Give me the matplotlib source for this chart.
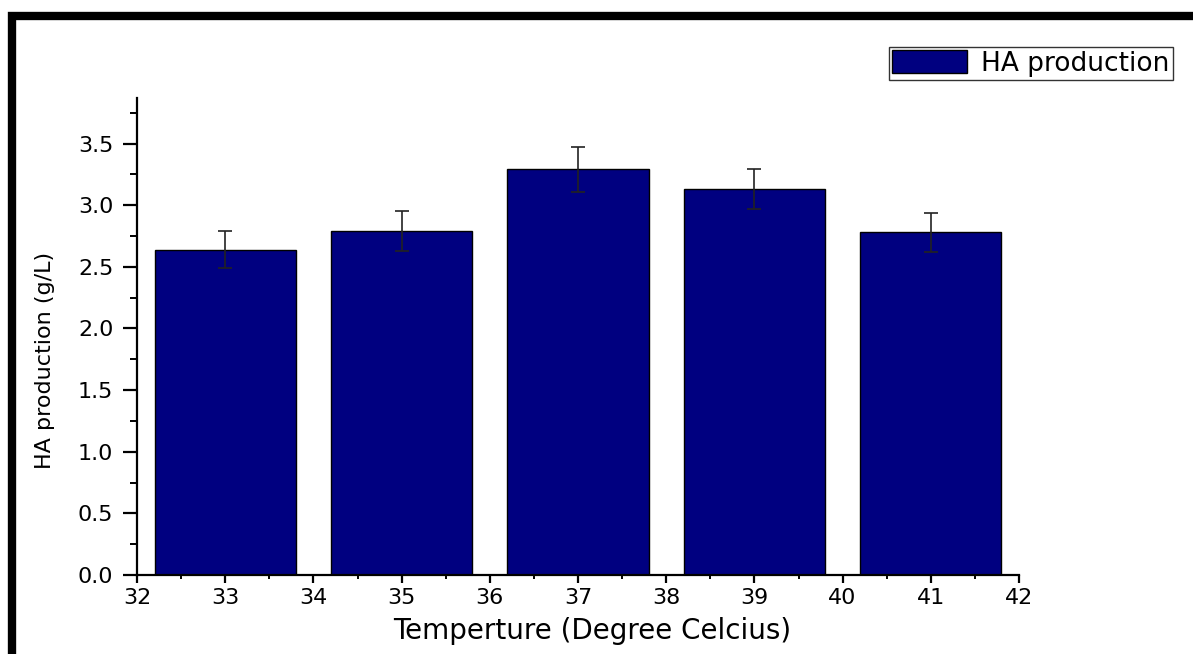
import numpy as np
import matplotlib
matplotlib.use('Agg')
import matplotlib.pyplot as plt
from matplotlib.lines import Line2D
from matplotlib.ticker import MultipleLocator

# data
temps = [33, 35, 37, 39, 41]
ha_prod = [2.64, 2.79, 3.29, 3.13, 2.78]
ha_err = [0.15, 0.16, 0.18, 0.16, 0.16]

plt.rcParams['font.family'] = 'DejaVu Sans'

W, H = 1193, 654
fig = plt.figure(figsize=(W / 100, H / 100), dpi=100)
ax = fig.add_axes([137 / W, 1 - 575 / H, (1019 - 137) / W, (575 - 98) / H])

# bars with error bars
ax.bar(temps, ha_prod, width=1.6, color='#000080', edgecolor='black',
       linewidth=1.0, label='HA production', zorder=2)
ax.errorbar(temps, ha_prod, yerr=ha_err, fmt='none', ecolor='#222222',
            elinewidth=1.2, capsize=5, capthick=1.2, zorder=3)

# axis properties
ax.set_xlim(32, 42)
ax.set_ylim(0, 3.87)
ax.xaxis.set_major_locator(MultipleLocator(1))
ax.xaxis.set_minor_locator(MultipleLocator(0.5))
ax.yaxis.set_minor_locator(MultipleLocator(0.25))
ax.set_yticks(np.arange(0, 3.51, 0.5))
ax.set_yticklabels(['%.1f' % v for v in np.arange(0, 3.51, 0.5)])

for s in ['top', 'right']:
    ax.spines[s].set_visible(False)
for s in ['left', 'bottom']:
    ax.spines[s].set_linewidth(1.6)

ax.tick_params(which='major', direction='out', width=1.6, labelsize=16)
ax.tick_params(axis='x', which='major', length=6, pad=3)
ax.tick_params(axis='x', which='minor', length=3, width=1.4)
ax.tick_params(axis='y', which='major', length=10, pad=7)
ax.tick_params(axis='y', which='minor', length=5, width=1.4)

ax.set_xlabel('Temperture (Degree Celcius)', fontsize=20)
ax.xaxis.set_label_coords(0.516, -0.088)
ax.set_ylabel('HA production (g/L)', fontsize=16)
ax.yaxis.set_label_coords(-0.093, 0.45)

leg = ax.legend(loc='upper right', bbox_to_anchor=(1173 / W, 1 - 47 / H),
                bbox_transform=fig.transFigure, fontsize=19, frameon=True,
                fancybox=False, borderaxespad=0, handlelength=2.85,
                handleheight=0.95, borderpad=0.12, handletextpad=0.55)
leg.get_frame().set_edgecolor('black')
leg.get_frame().set_linewidth(1.0)

# thick frame around the figure (top and left visible in reference)
x0 = 11.5 / W
y0 = 1 - 16 / H
fig.add_artist(Line2D([x0, x0, 1.0], [0.0, y0, y0], transform=fig.transFigure,
                      color='black', linewidth=6, solid_joinstyle='miter'))

plt.savefig('out.png', dpi=100)
